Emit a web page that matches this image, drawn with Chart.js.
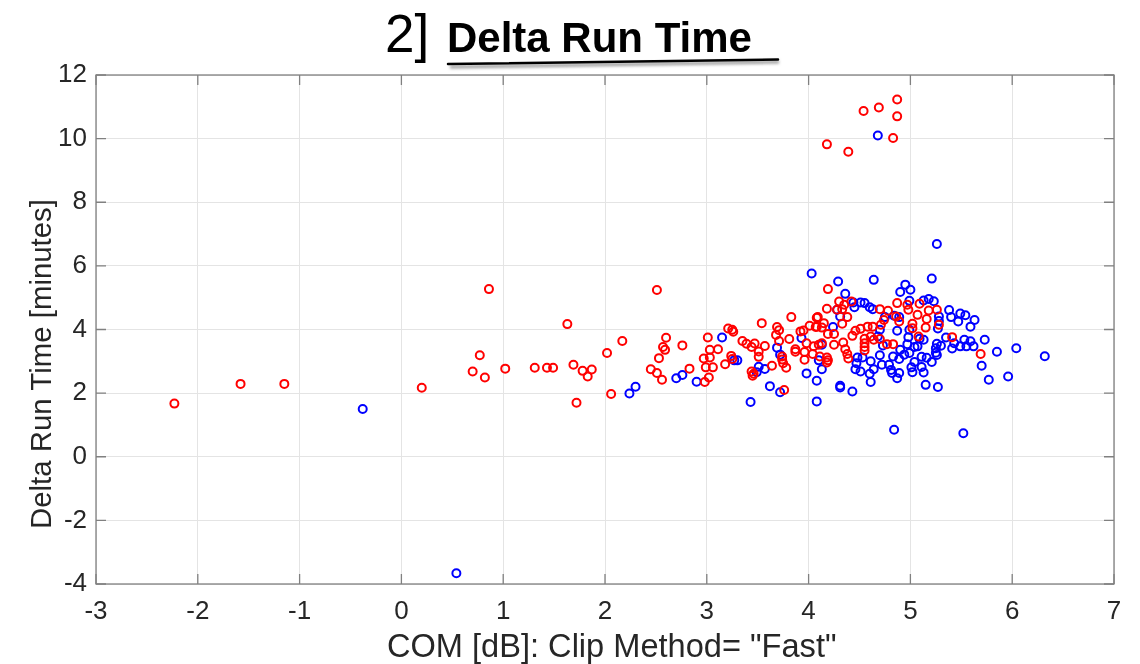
<!DOCTYPE html>
<html>
<head>
<meta charset="utf-8">
<title>Delta Run Time</title>
<script src="https://cdn.jsdelivr.net/npm/chart.js@4/dist/chart.umd.min.js"></script>
<style>
  html, body { margin: 0; padding: 0; background: #fff; }
  #wrap { position: relative; width: 1140px; height: 664px; }
  #chart { position: absolute; left: 0; top: 0; }
  #over { position: absolute; left: 0; top: 0; pointer-events: none; }
  #over text { font-family: 'Liberation Sans', Arial, Helvetica, sans-serif; }
</style>
</head>
<body>
<div id="wrap">
  <canvas id="chart" width="1140" height="664"></canvas>
  <svg id="over" width="1140" height="664">
    <defs>
      <filter id="soft" x="-5%" y="-200%" width="110%" height="500%">
        <feGaussianBlur stdDeviation="1.5"/>
      </filter>
    </defs>
    <!-- handwritten style heading -->
    <text x="385" y="52" font-size="53" fill="#000">2]</text>
    <text x="447" y="52" font-size="42" font-weight="bold" fill="#000">Delta Run Time</text>
    <line x1="450" y1="67" x2="779" y2="62" stroke="#999" stroke-width="3" filter="url(#soft)"/>
    <line x1="448" y1="64" x2="778" y2="59.5" stroke="#000" stroke-width="2.5" stroke-linecap="round"/>
    <!-- axis titles -->
    <text id="xt" x="387" y="657" font-size="32.6" fill="#262626"></text>
    <text id="yt" x="0" y="0" font-size="29.4" fill="#262626" text-anchor="middle" transform="translate(50.5,364) rotate(-90)"></text>
  </svg>
</div>
<script>
// data

const redX = [-2.23, -1.58, -1.15, 0.20, 0.70, 0.77, 0.82, 0.86, 1.02, 1.31, 1.43, 1.49, 1.63, 1.69, 1.72, 1.78, 1.83, 1.87,
  2.02, 2.06, 2.17, 2.51, 2.60, 2.57, 2.59, 2.53, 2.45, 2.51, 2.56, 2.76, 2.83, 3.01, 3.03, 3.11, 2.97, 3.03, 2.99, 3.06,
  3.02, 2.98, 3.21, 3.25, 3.26, 3.35, 3.39, 3.44, 3.47, 3.57, 3.51, 3.51, 3.24, 3.25, 3.18, 3.44, 3.46, 3.45, 3.54, 3.64,
  3.69, 3.71, 3.68, 3.71, 3.74, 3.74, 3.75, 3.78, 3.76, 3.83, 3.81, 3.87, 3.87, 3.92, 3.95, 3.96, 3.96, 3.98, 4.01, 4.04,
  4.07, 4.08, 4.05, 4.10, 4.19, 4.18, 4.30, 4.42, 4.28, 4.33, 4.35, 4.38, 4.33, 4.70, 4.78, 4.87, 4.97, 4.98, 5.09, 5.18,
  5.26, 4.74, 4.86, 4.89, 5.07, 5.02, 5.16, 5.28, 5.15, 5.02, 5.08, 5.41, 5.69, 4.09, 4.08, 4.15, 4.13, 4.25, 4.19, 4.13,
  4.11, 4.18, 4.19, 4.18, 4.25, 4.34, 4.36, 4.38, 4.39, 4.43, 4.46, 4.51, 4.55, 4.55, 4.55, 4.55, 4.58, 4.63, 4.61, 4.64,
  4.70, 4.77, 4.83, 4.71, 4.87, 4.69, 4.54, 4.87, 4.83, 4.18, 4.39];
const redY = [1.67, 2.29, 2.29, 2.17, 2.68, 3.19, 2.49, 5.27, 2.77, 2.80, 2.80, 2.80, 4.17, 2.89, 1.70, 2.70, 2.52, 2.74,
  3.26, 1.97, 3.64, 5.24, 3.74, 3.45, 3.36, 3.10, 2.75, 2.63, 2.42, 3.50, 2.77, 3.75, 3.36, 3.38, 3.09, 3.12, 2.81, 2.81,
  2.49, 2.35, 4.03, 3.99, 3.93, 3.64, 3.55, 3.45, 3.56, 3.48, 3.31, 3.14, 3.17, 3.07, 2.91, 2.68, 2.61, 2.55, 4.20, 2.86,
  4.08, 3.98, 3.83, 3.64, 3.15, 3.06, 2.94, 2.80, 2.10, 4.39, 3.70, 3.38, 3.30, 3.94, 3.97, 3.29, 3.05, 3.57, 4.12, 3.23,
  4.08, 4.37, 3.47, 3.52, 5.27, 4.65, 4.88, 4.88, 4.62, 4.64, 4.78, 4.39, 4.18, 4.64, 4.59, 4.83, 4.78, 4.62, 4.81, 4.60,
  4.62, 4.30, 4.41, 4.25, 4.46, 4.18, 4.33, 4.15, 4.06, 4.04, 3.78, 3.76, 3.23, 4.39, 4.09, 4.20, 4.06, 3.86, 3.86, 3.57,
  3.15, 3.12, 3.03, 2.96, 3.52, 3.59, 3.38, 3.23, 3.09, 3.80, 3.96, 4.02, 3.71, 3.57, 3.45, 3.34, 4.09, 4.09, 3.78, 3.68,
  3.70, 3.54, 3.54, 4.15, 11.23, 10.98, 10.87, 10.70, 10.02, 9.82, 9.59];

const blueX = [-0.38, 0.54, 2.24, 2.30, 2.70, 2.76, 2.90, 3.15, 3.27, 3.30, 3.43, 3.51, 3.57, 3.49, 3.62, 3.69, 3.72, 3.72,
  3.93, 4.03, 3.98, 4.08, 4.08, 4.10, 4.29, 4.64, 4.36, 5.26, 5.21, 4.95, 4.90, 5.00, 4.44, 4.51, 4.55, 4.60, 4.63, 4.45,
  4.99, 5.13, 5.18, 5.23, 5.38, 5.49, 5.54, 5.40, 5.47, 5.63, 5.59, 5.28, 5.28, 5.27, 4.89, 4.87, 4.99, 4.98, 5.09, 5.13,
  5.35, 5.53, 5.59, 5.73, 5.43, 5.49, 5.55, 5.62, 5.41, 5.85, 6.04, 5.26, 5.25, 5.25, 5.26, 5.30, 5.21, 5.16, 5.11, 5.11,
  5.13, 5.04, 5.01, 5.02, 5.15, 5.27, 5.52, 4.84, 4.90, 4.94, 4.89, 4.99, 5.04, 5.07, 4.97, 4.73, 4.70, 4.83, 4.72, 4.79,
  4.81, 4.82, 4.89, 4.87, 4.61, 4.64, 4.60, 4.61, 4.48, 4.53, 4.47, 4.46, 4.51, 4.31, 4.31, 4.43, 4.13, 4.13, 4.24, 4.28,
  4.31, 4.70, 4.75, 4.84, 4.68, 5.77, 5.96, 5.70, 6.32, 4.68];
const blueY = [1.50, -3.66, 1.99, 2.20, 2.47, 2.57, 2.36, 3.75, 3.03, 3.03, 1.72, 2.83, 2.76, 2.66, 2.22, 3.43, 3.21, 2.03,
  3.73, 5.76, 2.62, 2.39, 1.74, 3.03, 5.51, 5.56, 5.12, 6.69, 5.60, 5.41, 5.18, 5.25, 4.85, 4.85, 4.83, 4.70, 4.64, 4.70,
  4.90, 4.91, 4.96, 4.89, 4.61, 4.50, 4.45, 4.39, 4.25, 4.30, 4.09, 4.41, 4.27, 4.03, 4.39, 3.96, 3.99, 3.76, 3.71, 3.68,
  3.75, 3.68, 3.63, 3.68, 3.57, 3.47, 3.47, 3.47, 3.40, 3.30, 3.41, 3.55, 3.41, 3.27, 3.20, 3.49, 2.98, 3.11, 3.14, 2.82,
  2.65, 2.98, 2.81, 2.66, 2.26, 2.19, 0.74, 0.85, 3.36, 3.21, 3.07, 3.26, 3.45, 3.47, 3.54, 3.50, 3.19, 3.15, 2.89, 2.89,
  2.73, 2.63, 2.63, 2.47, 3.00, 2.75, 2.61, 2.35, 3.12, 3.12, 2.94, 2.75, 2.68, 2.23, 2.18, 2.05, 2.75, 3.52, 4.08, 4.62,
  4.41, 3.99, 4.39, 4.43, 3.78, 2.42, 2.52, 2.86, 3.16, 10.10];

const xTitle = 'COM [dB]: Clip Method= "Fast"';
const yTitle = 'Delta Run Time [minutes]';

const FONT = "'Liberation Sans', Arial, Helvetica, sans-serif";
const TEXT = '#262626';
const BOX = '#808080';

document.getElementById('xt').textContent = xTitle;
document.getElementById('yt').textContent = yTitle;

function toPoints(xs, ys) {
    return xs.map((x, i) => ({ x: x, y: ys[i] }));
}

// MATLAB-like box with inward ticks on all four sides
const boxPlugin = {
    id: 'box',
    afterDraw(chart) {
        const { ctx, chartArea: a, scales } = chart;
        ctx.save();
        ctx.strokeStyle = BOX;
        ctx.lineWidth = 1.3;
        ctx.strokeRect(a.left, a.top, a.right - a.left, a.bottom - a.top);
        const len = 10;
        ctx.beginPath();
        scales.x.ticks.forEach(t => {
            const px = scales.x.getPixelForValue(t.value);
            ctx.moveTo(px, a.bottom); ctx.lineTo(px, a.bottom - len);
            ctx.moveTo(px, a.top); ctx.lineTo(px, a.top + len);
        });
        scales.y.ticks.forEach(t => {
            const py = scales.y.getPixelForValue(t.value);
            ctx.moveTo(a.left, py); ctx.lineTo(a.left + len, py);
            ctx.moveTo(a.right, py); ctx.lineTo(a.right - len, py);
        });
        ctx.stroke();
        ctx.restore();
    }
};

const ctx = document.getElementById('chart');

new Chart(ctx, {
    type: 'scatter',
    data: {
        datasets: [{
            label: 'red',
            data: toPoints(redX, redY),
            borderColor: '#ff0000',
            backgroundColor: 'rgba(0,0,0,0)',
            pointRadius: 4,
            pointBorderWidth: 2
        }, {
            label: 'blue',
            data: toPoints(blueX, blueY),
            borderColor: '#0000ff',
            backgroundColor: 'rgba(0,0,0,0)',
            pointRadius: 4,
            pointBorderWidth: 2
        }]
    },
    options: {
        responsive: false,
        animation: false,
        layout: { padding: { left: 0, right: 26, top: 75, bottom: 0 } },
        plugins: {
            legend: { display: false },
            tooltip: { enabled: false }
        },
        scales: {
            x: {
                type: 'linear',
                min: -3,
                max: 7,
                afterFit: s => { s.height = 80; },
                ticks: { stepSize: 1, color: TEXT, font: { family: FONT, size: 26 }, padding: 12, maxRotation: 0 },
                grid: { color: '#e4e4e4', lineWidth: 1, drawTicks: false },
                border: { display: false }
            },
            y: {
                type: 'linear',
                min: -4,
                max: 12,
                afterFit: s => { s.width = 96; },
                ticks: { stepSize: 2, color: TEXT, font: { family: FONT, size: 26 }, padding: 9 },
                grid: { color: '#e4e4e4', lineWidth: 1, drawTicks: false },
                border: { display: false }
            }
        }
    },
    plugins: [boxPlugin]
});
</script>
</body>
</html>
